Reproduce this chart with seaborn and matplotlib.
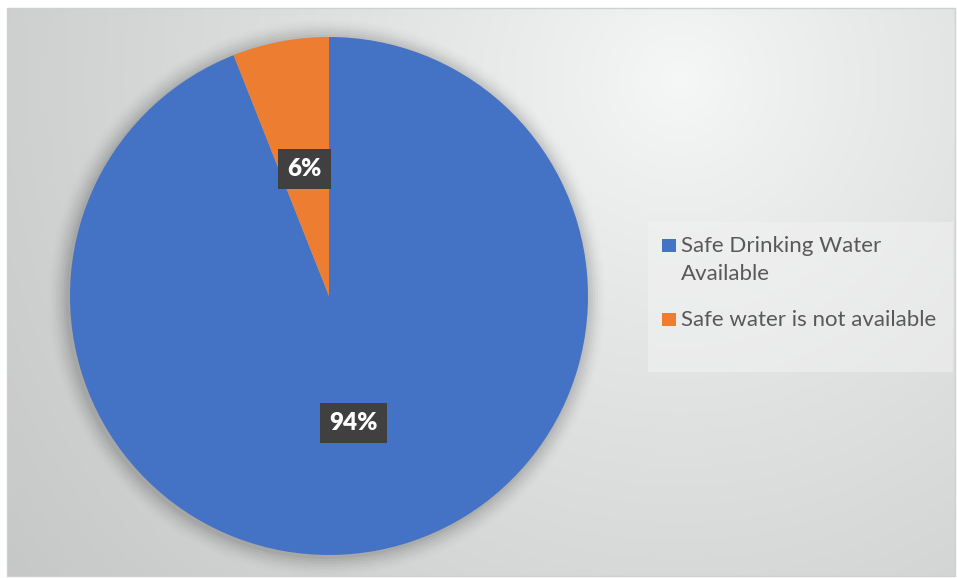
import numpy as np
import matplotlib
matplotlib.use("Agg")
import matplotlib.pyplot as plt
import seaborn as sns
from matplotlib.patches import Rectangle, Circle

# ---- data ----
categories = ["Safe Drinking Water Available", "Safe water is not available"]
legend_labels = ["Safe Drinking Water\nAvailable", "Safe water is not available"]
values = [94, 6]
colors = ["#4472C4", "#ED7D31"]

sns.set_style("white")
plt.rcParams['font.family'] = ['Lato', 'DejaVu Sans']

W, H = 957, 578
fig = plt.figure(figsize=(W / 100, H / 100), dpi=100)
ax = fig.add_axes([0, 0, 1, 1])

# background radial gradient (pixel coords, y down)
x0, x1, y0, y1 = 7, 955, 8, 576
xx, yy = np.meshgrid(np.linspace(x0, x1, 400), np.linspace(y0, y1, 250))
d = np.hypot(xx - 680, (yy - 80) * 1.0)
d = d / d.max()
val = 0.97 - 0.19 * np.clip(d, 0, 1) ** 0.85
img = np.dstack([val * 0.995, val, val, np.ones_like(val)])
ax.imshow(img, extent=[x0, x1, H - y1, H - y0], origin="upper", aspect="auto", zorder=0)
ax.add_patch(Rectangle((x0, H - y1), x1 - x0, y1 - y0, fill=False, ec="#d0d0d0", lw=1, zorder=1))

cx, cy, r = 329, H - 296, 259

# soft shadow
for i, a in enumerate(np.linspace(0.04, 0.008, 8)):
    ax.add_patch(Circle((cx - 2, cy - 2), r + 2 + i * 2.5, color="black", alpha=a, lw=0, zorder=1.5))

wedges, texts, autotexts = ax.pie(
    values, colors=colors, startangle=90, counterclock=False,
    center=(cx, cy), radius=r, autopct="%1.0f%%", pctdistance=0.5,
    wedgeprops=dict(edgecolor="none", linewidth=0),
    textprops=dict(color="white", fontsize=17.5, fontweight="heavy"),
)
for w in wedges:
    w.set_zorder(2)
for t in autotexts:
    t.set_zorder(5)
    t.set_bbox(dict(boxstyle="square,pad=0.38", fc="#404040", ec="none"))

# legend (manual)
ax.add_patch(Rectangle((648, H - 372), 305, 150, fc="#f2f2f2", ec="none", alpha=0.55, zorder=3))
leg_base = [252, 326]
line_gap = 28
for lab, col, yb in zip(legend_labels, colors, leg_base):
    ax.add_patch(Rectangle((662, H - yb), 13.5, 13.5, fc=col, ec="none", zorder=4))
    for k, line in enumerate(lab.split("\n")):
        ax.text(681, H - (yb + k * line_gap), line, fontsize=16, color="#595959",
                va="baseline", ha="left", zorder=4)

ax.set_xlim(0, W)
ax.set_ylim(0, H)
ax.set_aspect("auto")
ax.axis("off")
fig.savefig("out.png", dpi=100, facecolor="white")
